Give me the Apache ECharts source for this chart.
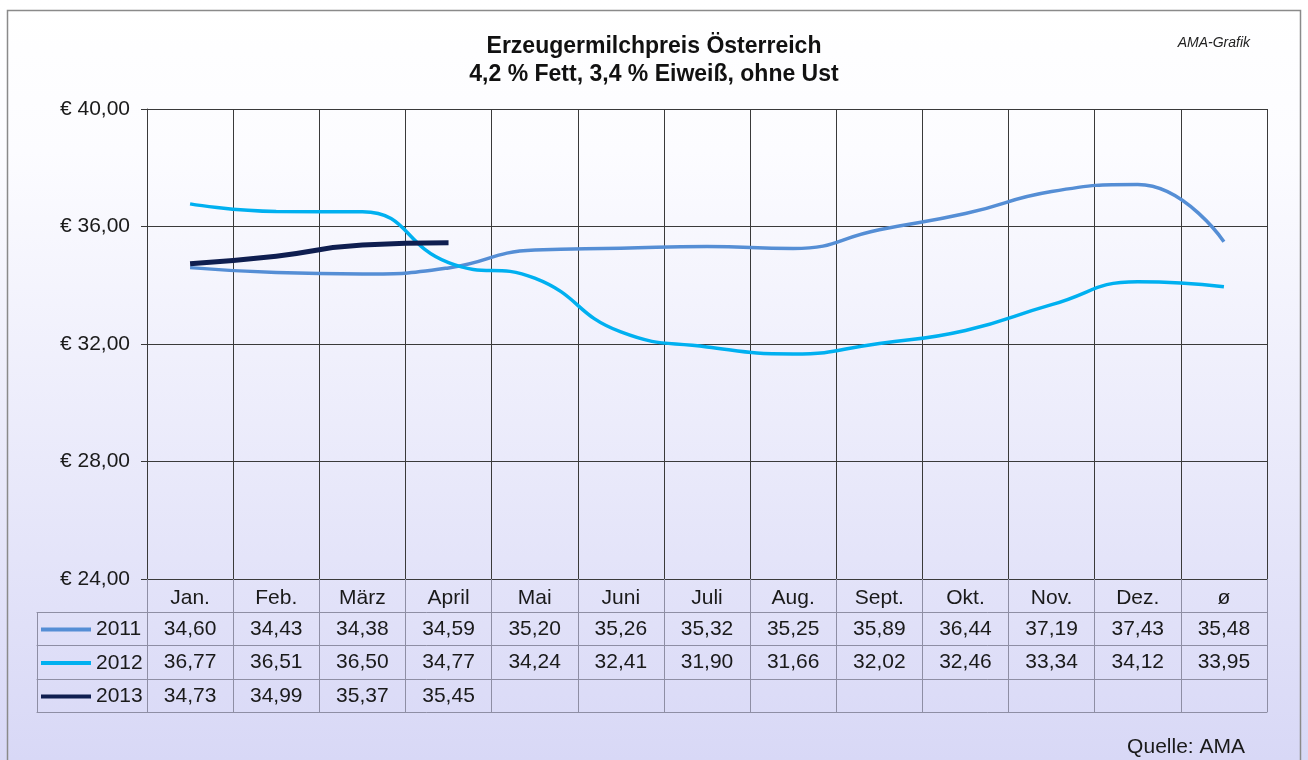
<!DOCTYPE html>
<html>
<head>
<meta charset="utf-8">
<script src="https://cdn.jsdelivr.net/npm/echarts@6/dist/echarts.min.js"></script>
<style>
html,body{margin:0;padding:0;background:#fff;}
#c{width:1308px;height:760px;}
</style>
</head>
<body>
<div id="c"></div>
<script>
var categories = ['Jan.','Feb.','März','April','Mai','Juni','Juli','Aug.','Sept.','Okt.','Nov.','Dez.','ø'];
var seriesNames = ['2011','2012','2013'];
var values2011 = [34.60,34.43,34.38,34.59,35.20,35.26,35.32,35.25,35.89,36.44,37.19,37.43,35.48];
var values2012 = [36.77,36.51,36.50,34.77,34.24,32.41,31.90,31.66,32.02,32.46,33.34,34.12,33.95];
var values2013 = [34.73,34.99,35.37,35.45];
var yTicks = {min:24, max:40, interval:4};
var titleText = 'Erzeugermilchpreis Österreich\n4,2 % Fett, 3,4 % Eiweiß, ohne Ust';
var creditText = 'AMA-Grafik';
var sourceText = 'Quelle: AMA';

var FONT = '"Liberation Sans", Arial, sans-serif';
var colors = ['#558ed5','#00b0f0','#0f1e50'];
var widths = [3.5,3.5,5];
var fmt = function(v){ return (v==null||v==='') ? '' : v.toFixed(2).replace('.',','); };
var rows = [values2011, values2012, values2013];

var tableLine = '#8e8ea4';
var gridDark = '#3a3a3a';
var offsets = [0,33,66,100,133];

var xAxes = [];
offsets.forEach(function(off, k){
  xAxes.push({
    type:'category', gridIndex:0, position:'bottom', offset:off,
    data:categories, boundaryGap:true,
    axisLine:{show:true, onZero:false, lineStyle:{color: k===0 ? gridDark : tableLine, width:1}},
    axisTick:{show: k<4, interval:0, length: k===0?33:(offsets[k+1]-off), lineStyle:{color:tableLine, width:1}},
    axisLabel:{show:k<4, interval:0, margin: k===0 ? 9 : 7, fontFamily:FONT, fontSize:21, lineHeight:21, color:'#1a1a1a',
      formatter: (function(kk){ return function(v, i){
        if(kk===0) return v;
        var r = rows[kk-1]; return fmt(r[i]);
      };})(k)},
    splitLine:{show:k===0, interval:0, lineStyle:{color:gridDark, width:1}}
  });
});
[33,66,100,133].forEach(function(off, k){
  xAxes.push({
    type:'category', gridIndex:1, position:'bottom', offset:off, data:[''], boundaryGap:true,
    axisLine:{show:true, onZero:false, lineStyle:{color:tableLine, width:1}},
    axisTick:{show:k<3, interval:0, length:[33,34,33,0][k], lineStyle:{color:tableLine, width:1}},
    axisLabel:{show:false}, splitLine:{show:false}
  });
});

var option = {
  backgroundColor: new echarts.graphic.LinearGradient(0,0,0,1,[
    {offset:0, color:'#ffffff'},
    {offset:0.2, color:'#fcfcff'},
    {offset:1, color:'#d8d8f6'}
  ]),
  animation:false,
  title:[
    {text:titleText, left:'center', top:28,
      textStyle:{fontFamily:FONT, fontSize:23, fontWeight:'bold', color:'#111', lineHeight:28}},
    {text:creditText, right:53, top:31,
      textStyle:{fontFamily:FONT, fontSize:14, fontStyle:'italic', fontWeight:'normal', color:'#222'}},
    {text:sourceText, right:58, top:732,
      textStyle:{fontFamily:FONT, fontSize:21, fontWeight:'normal', color:'#1a1a1a'}}
  ],
  graphic:[
    {type:'rect', shape:{x:7.5,y:10.5,width:1293,height:760}, style:{fill:null, stroke:'#8a8a8a', lineWidth:1.5}, silent:true}
  ],
  legend:{
    orient:'vertical', left:41, top:619, padding:0, itemWidth:50, itemHeight:4, itemGap:12.5, itemTextGap:2,
    icon:'rect', data:seriesNames,
    textStyle:{fontFamily:FONT, fontSize:21, lineHeight:21, color:'#1a1a1a'}
  },
  grid:[
    {left:147, right:41, top:109, bottom:181, show:false},
    {left:37, width:110, top:109, bottom:181, show:false}
  ],
  xAxis: xAxes,
  yAxis:[
    {type:'value', gridIndex:0, min:yTicks.min, max:yTicks.max, interval:yTicks.interval,
      axisLine:{show:true, lineStyle:{color:gridDark, width:1}},
      axisTick:{show:true, length:6, lineStyle:{color:gridDark}},
      axisLabel:{margin:17, fontFamily:FONT, fontSize:21, color:'#1a1a1a',
        formatter:function(v){ return '€ ' + v.toFixed(2).replace('.',','); }},
      splitLine:{show:true, lineStyle:{color:gridDark, width:1}}},
    {type:'value', gridIndex:1, min:0, max:1, show:false}
  ],
  series:[
    {name:seriesNames[0], type:'line', xAxisIndex:0, yAxisIndex:0, data:values2011, smooth:0.5, symbol:'none',
      lineStyle:{color:colors[0], width:widths[0]}, itemStyle:{color:colors[0]}},
    {name:seriesNames[1], type:'line', xAxisIndex:0, yAxisIndex:0, data:values2012, smooth:0.5, symbol:'none',
      lineStyle:{color:colors[1], width:widths[1]}, itemStyle:{color:colors[1]}},
    {name:seriesNames[2], type:'line', xAxisIndex:0, yAxisIndex:0, data:values2013, smooth:0.5, symbol:'none',
      lineStyle:{color:colors[2], width:widths[2]}, itemStyle:{color:colors[2]}}
  ]
};
var chart = echarts.init(document.getElementById('c'));
chart.setOption(option);
</script>
</body>
</html>
